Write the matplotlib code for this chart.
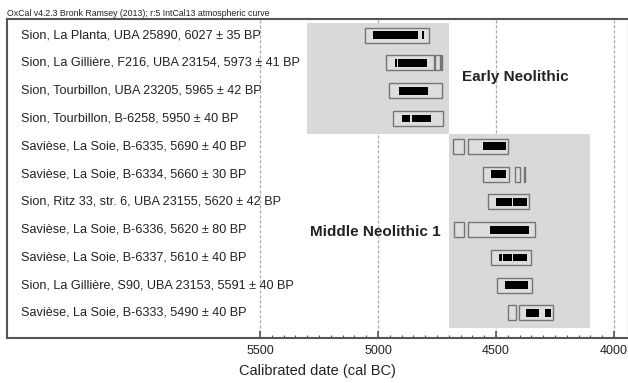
import matplotlib
matplotlib.use("Agg")
import matplotlib.pyplot as plt
import matplotlib.patches as patches
from matplotlib.ticker import FixedLocator

plt.rcParams['font.family'] = ['Liberation Sans', 'DejaVu Sans']

# sample labels, top to bottom
labels = [
    "Sion, La Planta, UBA 25890, 6027 ± 35 BP",
    "Sion, La Gillière, F216, UBA 23154, 5973 ± 41 BP",
    "Sion, Tourbillon, UBA 23205, 5965 ± 42 BP",
    "Sion, Tourbillon, B-6258, 5950 ± 40 BP",
    "Savièse, La Soie, B-6335, 5690 ± 40 BP",
    "Savièse, La Soie, B-6334, 5660 ± 30 BP",
    "Sion, Ritz 33, str. 6, UBA 23155, 5620 ± 42 BP",
    "Savièse, La Soie, B-6336, 5620 ± 80 BP",
    "Savièse, La Soie, B-6337, 5610 ± 40 BP",
    "Sion, La Gillière, S90, UBA 23153, 5591 ± 40 BP",
    "Savièse, La Soie, B-6333, 5490 ± 40 BP",
]

# 95.4% ranges (cal BC, start-end)
range95 = [
    [(5055, 4785)],
    [(4966, 4763), (4758, 4739), (4734, 4727)],
    [(4952, 4727)],
    [(4935, 4726)],
    [(4681, 4636), (4620, 4448)],
    [(4556, 4445), (4420, 4397), (4383, 4376)],
    [(4533, 4359)],
    [(4678, 4636), (4620, 4333)],
    [(4521, 4354)],
    [(4497, 4348)],
    [(4450, 4415), (4404, 4257)],
]

# 68.2% ranges
range68 = [
    [(5020, 4829), (4812, 4804)],
    [(4928, 4921), (4914, 4791)],
    [(4911, 4787)],
    [(4900, 4863), (4855, 4777)],
    [(4554, 4458)],
    [(4523, 4456)],
    [(4500, 4434), (4427, 4370)],
    [(4525, 4359)],
    [(4487, 4476), (4469, 4434), (4430, 4369)],
    [(4462, 4366)],
    [(4373, 4317), (4292, 4268)],
]

# phases: name, start, end (cal BC), first row, last row
phase_names = ["Early Neolithic", "Middle Neolithic 1"]
phase_start = [5300, 4700]
phase_end = [4700, 4100]
phase_rows = [(0, 3), (4, 10)]

fig = plt.figure(figsize=(6.28, 3.83), dpi=100)
ax = fig.add_axes([7 / 628, 1 - 338 / 383, 621 / 628, (338 - 19) / 383])

ax.set_xlim(6572, 3941)
ax.set_ylim(10.9, -0.58)

shade = '#d9d9d9'
for (r0, r1), s, e in zip(phase_rows, phase_start, phase_end):
    ax.add_patch(patches.Rectangle((e, r0 - 0.45), s - e, r1 - r0 + 1.0,
                                   facecolor=shade, edgecolor='none', zorder=1))

for x in [5500, 5000, 4500, 4000]:
    ax.axvline(x, color='#a8a8a8', lw=0.9, ls=(0, (2.5, 1.5)), zorder=0.5)

for i, (outs, ins) in enumerate(zip(range95, range68)):
    for s, e in outs:
        ax.add_patch(patches.Rectangle((e, i - 0.27), s - e, 0.54,
                                       facecolor='#dedede', edgecolor='#757575', lw=1.0, zorder=2))
    for s, e in ins:
        ax.add_patch(patches.Rectangle((e, i - 0.14), s - e, 0.28,
                                       facecolor='black', edgecolor='none', zorder=3))
    ax.text(14 / 621, i, labels[i], transform=ax.get_yaxis_transform(),
            ha='left', va='center', fontsize=9.1, color='#222222', zorder=4)

ax.text(4644, 1.5, phase_names[0], ha='left', va='center', fontsize=11,
        fontweight='bold', color='#222222', zorder=4)
ax.text(4735, 7.1, phase_names[1], ha='right', va='center', fontsize=11,
        fontweight='bold', color='#222222', zorder=4)

ax.set_yticks([])
ax.set_xticks([5500, 5000, 4500, 4000])
ax.set_xticklabels(["5500", "5000", "4500", "4000"])
ax.xaxis.set_minor_locator(FixedLocator(list(range(4000, 5501, 50))))
ax.tick_params(axis='x', which='major', direction='in', length=5, width=1.2,
               color='#555555', labelsize=9, pad=5, labelcolor='#222222')
ax.tick_params(axis='x', which='minor', direction='in', length=2.5, width=0.8,
               color='#555555')
ax.set_xlabel("Calibrated date (cal BC)", fontsize=10.5, color='#222222', labelpad=5)

for side in ['top', 'bottom', 'left']:
    ax.spines[side].set_color('#555555')
    ax.spines[side].set_linewidth(1.5)
ax.spines['right'].set_color('#cccccc')
ax.spines['right'].set_linewidth(1.0)

fig.text(7 / 628, 1 - 13 / 383, "OxCal v4.2.3 Bronk Ramsey (2013); r:5 IntCal13 atmospheric curve",
         ha='left', va='center', fontsize=6.3, color='#222222')

fig.savefig("out.png", dpi=100)
